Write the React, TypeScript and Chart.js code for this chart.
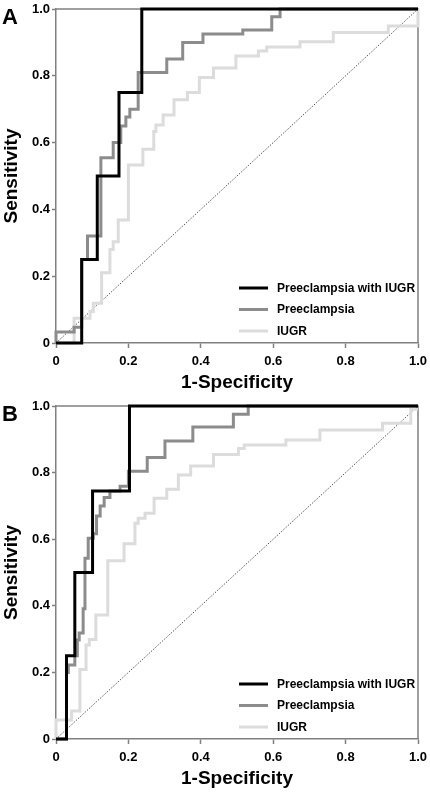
import React, { useEffect, useRef } from "react";
import { Chart, registerables } from "chart.js";

Chart.register(...registerables);

const FONT = "'Liberation Sans', Arial, Helvetica, sans-serif";

const seriesNames = ["Preeclampsia with IUGR", "Preeclampsia", "IUGR"];
const seriesColors = ["#000000", "#8c8c8c", "#dcdcdc"];
const axisColor = "#808080";
const diagX = [0, 1];
const diagY = [0, 1];

// Panel A
const aBlackX = [0, 0.071, 0.071, 0.114, 0.114, 0.174, 0.174, 0.237, 0.237, 1];
const aBlackY = [0, 0, 0.25, 0.25, 0.5, 0.5, 0.75, 0.75, 1, 1];
const aGrayX = [0, 0, 0.05, 0.05, 0.071, 0.071, 0.087, 0.087, 0.124, 0.124, 0.158, 0.158, 0.179, 0.179, 0.193, 0.193, 0.204, 0.204, 0.227, 0.227, 0.306, 0.306, 0.35, 0.35, 0.406, 0.406, 0.516, 0.516, 0.596, 0.596, 0.619, 0.619, 1];
const aGrayY = [0, 0.033, 0.033, 0.047, 0.047, 0.25, 0.25, 0.32, 0.32, 0.555, 0.555, 0.6, 0.6, 0.65, 0.65, 0.677, 0.677, 0.7, 0.7, 0.81, 0.81, 0.85, 0.85, 0.9, 0.9, 0.925, 0.925, 0.937, 0.937, 0.977, 0.977, 1, 1];
const aLightX = [0, 0.05, 0.05, 0.094, 0.094, 0.103, 0.103, 0.126, 0.126, 0.149, 0.149, 0.158, 0.158, 0.172, 0.172, 0.2, 0.2, 0.24, 0.24, 0.27, 0.27, 0.276, 0.276, 0.296, 0.296, 0.326, 0.326, 0.363, 0.363, 0.396, 0.396, 0.435, 0.435, 0.497, 0.497, 0.559, 0.559, 0.582, 0.582, 0.674, 0.674, 0.766, 0.766, 0.918, 0.918, 1, 1];
const aLightY = [0, 0, 0.074, 0.074, 0.094, 0.094, 0.119, 0.119, 0.21, 0.21, 0.28, 0.28, 0.303, 0.303, 0.368, 0.368, 0.533, 0.533, 0.58, 0.58, 0.633, 0.633, 0.653, 0.653, 0.683, 0.683, 0.728, 0.728, 0.75, 0.75, 0.795, 0.795, 0.823, 0.823, 0.859, 0.859, 0.874, 0.874, 0.886, 0.886, 0.902, 0.902, 0.93, 0.93, 0.949, 0.949, 1];

// Panel B
const bBlackX = [0, 0.029, 0.029, 0.052, 0.052, 0.101, 0.101, 0.203, 0.203, 1];
const bBlackY = [0, 0, 0.25, 0.25, 0.5, 0.5, 0.745, 0.745, 1, 1];
const bGrayX = [0, 0.029, 0.029, 0.034, 0.034, 0.052, 0.052, 0.059, 0.059, 0.064, 0.064, 0.075, 0.075, 0.08, 0.08, 0.089, 0.089, 0.103, 0.103, 0.112, 0.112, 0.122, 0.122, 0.133, 0.133, 0.149, 0.149, 0.177, 0.177, 0.2, 0.2, 0.252, 0.252, 0.301, 0.301, 0.378, 0.378, 0.49, 0.49, 0.531, 0.531, 1];
const bGrayY = [0, 0, 0.2, 0.2, 0.222, 0.222, 0.25, 0.25, 0.297, 0.297, 0.318, 0.318, 0.391, 0.391, 0.543, 0.543, 0.603, 0.603, 0.616, 0.616, 0.67, 0.67, 0.7, 0.7, 0.725, 0.725, 0.745, 0.745, 0.759, 0.759, 0.804, 0.804, 0.845, 0.845, 0.895, 0.895, 0.937, 0.937, 0.975, 0.975, 1, 1];
const bLightX = [0, 0, 0.043, 0.043, 0.066, 0.066, 0.083, 0.083, 0.092, 0.092, 0.11, 0.11, 0.143, 0.143, 0.188, 0.188, 0.218, 0.218, 0.227, 0.227, 0.246, 0.246, 0.271, 0.271, 0.306, 0.306, 0.338, 0.338, 0.372, 0.372, 0.435, 0.435, 0.504, 0.504, 0.52, 0.52, 0.635, 0.635, 0.729, 0.729, 0.902, 0.902, 0.98, 0.98, 1];
const bLightY = [0, 0.057, 0.057, 0.084, 0.084, 0.209, 0.209, 0.282, 0.282, 0.299, 0.299, 0.372, 0.372, 0.535, 0.535, 0.586, 0.586, 0.648, 0.648, 0.663, 0.663, 0.678, 0.678, 0.723, 0.723, 0.75, 0.75, 0.793, 0.793, 0.82, 0.82, 0.854, 0.854, 0.872, 0.872, 0.883, 0.883, 0.898, 0.898, 0.928, 0.928, 0.948, 0.948, 0.99, 0.99];

const pts = (xs: number[], ys: number[]) => xs.map((x, i) => ({ x, y: ys[i] }));

type PanelProps = {
  letter: string;
  top: number;
  padTop: number;
  series: { x: number[]; y: number[] }[];
};

function Panel({ letter, top, padTop, series }: PanelProps) {
  const ref = useRef<HTMLCanvasElement | null>(null);
  useEffect(() => {
    if (!ref.current) return;
    const datasets: any[] = series.map((s, i) => ({
      label: seriesNames[i],
      data: pts(s.x, s.y),
      borderColor: seriesColors[i],
      backgroundColor: seriesColors[i],
      borderWidth: 3,
      pointRadius: 0,
      fill: false,
      tension: 0,
      clip: 3,
      borderJoinStyle: "miter",
      borderCapStyle: "butt",
    }));
    datasets.push({
      label: "diag",
      data: pts(diagX, diagY),
      borderColor: "#555555",
      borderWidth: 1,
      borderDash: [1.5, 1.5],
      pointRadius: 0,
      fill: false,
    });

    const extras = {
      id: "extras",
      beforeDatasetsDraw(chart: any) {
        const { ctx, chartArea: a } = chart;
        ctx.save();
        ctx.strokeStyle = axisColor;
        ctx.lineWidth = 1.5;
        ctx.beginPath();
        ctx.moveTo(a.left, a.top);
        ctx.lineTo(a.right, a.top);
        ctx.lineTo(a.right, a.bottom);
        ctx.stroke();
        ctx.restore();
      },
      afterDraw(chart: any) {
        const { ctx, chartArea: a } = chart;
        ctx.save();
        // panel letter
        ctx.fillStyle = "#000";
        ctx.font = `bold 22px ${FONT}`;
        ctx.textBaseline = "alphabetic";
        ctx.textAlign = "left";
        ctx.fillText(letter, 2, a.top + 15);
        // legend
        const offs = [-55, -33.5, -12];
        ctx.font = `bold 12px ${FONT}`;
        ctx.textBaseline = "middle";
        seriesNames.forEach((n, i) => {
          const y = a.bottom + offs[i];
          ctx.strokeStyle = seriesColors[i];
          ctx.lineWidth = 3;
          ctx.beginPath();
          ctx.moveTo(a.right - 179, y);
          ctx.lineTo(a.right - 150, y);
          ctx.stroke();
          ctx.fillStyle = "#000";
          ctx.fillText(n, a.right - 141, y + 0.5);
        });
        ctx.restore();
      },
    };

    const chart = new Chart(ref.current, {
      type: "line",
      data: { datasets },
      plugins: [extras],
      options: {
        animation: false,
        responsive: false,
        maintainAspectRatio: false,
        layout: { padding: { top: padTop, right: 12, left: 0, bottom: 0 } },
        plugins: { legend: { display: false }, tooltip: { enabled: false } },
        scales: {
          x: {
            type: "linear",
            min: 0,
            max: 1,
            afterFit: (s: any) => {
              s.height = 53;
              s.paddingRight = 0;
              s.paddingLeft = 0;
            },
            ticks: {
              stepSize: 0.2,
              color: "#000",
              font: { family: FONT, size: 13, weight: "bold" },
              padding: 6,
              maxRotation: 0,
              callback: (v: any) => (Number(v) === 0 ? "0" : Number(v).toFixed(1)),
            },
            grid: { drawOnChartArea: false, drawTicks: true, tickLength: 5, tickColor: axisColor, tickWidth: 1.5 },
            border: { color: axisColor, width: 1.5 },
            title: {
              display: true,
              text: "1-Specificity",
              color: "#000",
              font: { family: FONT, size: 19, weight: "bold" },
              padding: { top: 0, bottom: 2 },
            },
          },
          y: {
            type: "linear",
            min: 0,
            max: 1,
            afterFit: (s: any) => {
              s.width = 56;
              s.paddingTop = 0;
              s.paddingBottom = 0;
            },
            ticks: {
              stepSize: 0.2,
              color: "#000",
              font: { family: FONT, size: 13, weight: "bold" },
              padding: 2,
              callback: (v: any) => (Number(v) === 0 ? "0" : Number(v).toFixed(1)),
            },
            grid: { drawOnChartArea: false, drawTicks: true, tickLength: 4, tickColor: axisColor, tickWidth: 1.5 },
            border: { color: axisColor, width: 1.5 },
            title: {
              display: true,
              text: "Sensitivity",
              color: "#000",
              font: { family: FONT, size: 19, weight: "bold" },
              padding: { top: 0, bottom: 0 },
            },
          },
        },
      } as any,
    });
    return () => chart.destroy();
  }, []);
  return (
    <canvas
      ref={ref}
      width={430}
      height={396}
      style={{ position: "absolute", left: 0, top, width: 430, height: 396, display: "block" }}
    />
  );
}

export default function App() {
  return (
    <div style={{ position: "absolute", left: 0, top: 0, width: 430, height: 792, background: "#fff" }}>
      <Panel
        letter="A"
        top={0}
        padTop={9}
        series={[
          { x: aBlackX, y: aBlackY },
          { x: aGrayX, y: aGrayY },
          { x: aLightX, y: aLightY },
        ]}
      />
      <Panel
        letter="B"
        top={396}
        padTop={10}
        series={[
          { x: bBlackX, y: bBlackY },
          { x: bGrayX, y: bGrayY },
          { x: bLightX, y: bLightY },
        ]}
      />
    </div>
  );
}
